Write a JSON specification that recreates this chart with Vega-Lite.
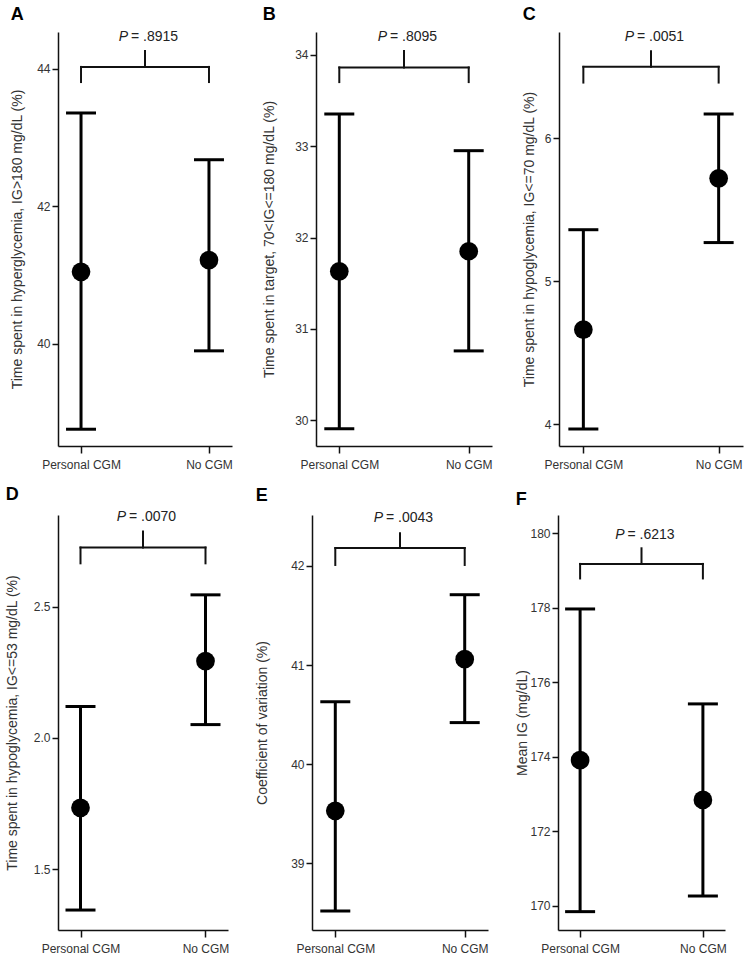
{
  "$schema": "https://vega.github.io/schema/vega-lite/v6.json",
  "padding": 5,
  "background": "white",
  "spacing": 15,
  "config": {
    "view": {"stroke": null},
    "font": "Liberation Sans",
    "axis": {"domainColor": "#111", "domainWidth": 1.5, "tickColor": "#111", "tickWidth": 1.5, "tickSize": 6, "labelColor": "#333", "labelFontSize": 12, "titleColor": "#333", "titleFontSize": 14, "titleFontWeight": "normal", "grid": false, "labelPadding": 2, "labelFlush": false},
    "axisY": {"minExtent": 22, "maxExtent": 22},
    "tick": {"opacity": 1},
    "title": {"fontSize": 18, "fontWeight": "bold", "anchor": "start", "frame": "bounds", "color": "#000", "offset": 6}
  },
  "datasets": {
    "groups": [
      {"panel": "A", "group": "Personal CGM", "xpos": 1, "mean": 41.05, "lower": 38.76, "upper": 43.36},
      {"panel": "A", "group": "No CGM", "xpos": 2, "mean": 41.22, "lower": 39.90, "upper": 42.68},
      {"panel": "B", "group": "Personal CGM", "xpos": 1, "mean": 31.63, "lower": 29.91, "upper": 33.35},
      {"panel": "B", "group": "No CGM", "xpos": 2, "mean": 31.85, "lower": 30.76, "upper": 32.95},
      {"panel": "C", "group": "Personal CGM", "xpos": 1, "mean": 4.66, "lower": 3.965, "upper": 5.36},
      {"panel": "C", "group": "No CGM", "xpos": 2, "mean": 5.72, "lower": 5.27, "upper": 6.17},
      {"panel": "D", "group": "Personal CGM", "xpos": 1, "mean": 1.734, "lower": 1.345, "upper": 2.12},
      {"panel": "D", "group": "No CGM", "xpos": 2, "mean": 2.293, "lower": 2.051, "upper": 2.545},
      {"panel": "E", "group": "Personal CGM", "xpos": 1, "mean": 39.53, "lower": 38.52, "upper": 40.63},
      {"panel": "E", "group": "No CGM", "xpos": 2, "mean": 41.06, "lower": 40.42, "upper": 41.71},
      {"panel": "F", "group": "Personal CGM", "xpos": 1, "mean": 173.91, "lower": 169.84, "upper": 177.97},
      {"panel": "F", "group": "No CGM", "xpos": 2, "mean": 172.84, "lower": 170.26, "upper": 175.42}
    ],
    "brackets": [
      {"panel": "A", "x1": 1, "x2": 2, "y1": 44.03, "y2": 44.03},
      {"panel": "A", "x1": 1, "x2": 1, "y1": 43.81, "y2": 44.03},
      {"panel": "A", "x1": 2, "x2": 2, "y1": 43.81, "y2": 44.03},
      {"panel": "A", "x1": 1.5, "x2": 1.5, "y1": 44.03, "y2": 44.26},
      {"panel": "B", "x1": 1, "x2": 2, "y1": 33.86, "y2": 33.86},
      {"panel": "B", "x1": 1, "x2": 1, "y1": 33.70, "y2": 33.86},
      {"panel": "B", "x1": 2, "x2": 2, "y1": 33.70, "y2": 33.86},
      {"panel": "B", "x1": 1.5, "x2": 1.5, "y1": 33.86, "y2": 34.04},
      {"panel": "C", "x1": 1, "x2": 2, "y1": 6.50, "y2": 6.50},
      {"panel": "C", "x1": 1, "x2": 1, "y1": 6.39, "y2": 6.50},
      {"panel": "C", "x1": 2, "x2": 2, "y1": 6.39, "y2": 6.50},
      {"panel": "C", "x1": 1.5, "x2": 1.5, "y1": 6.50, "y2": 6.61},
      {"panel": "D", "x1": 1, "x2": 2, "y1": 2.725, "y2": 2.725},
      {"panel": "D", "x1": 1, "x2": 1, "y1": 2.665, "y2": 2.725},
      {"panel": "D", "x1": 2, "x2": 2, "y1": 2.665, "y2": 2.725},
      {"panel": "D", "x1": 1.5, "x2": 1.5, "y1": 2.725, "y2": 2.786},
      {"panel": "E", "x1": 1, "x2": 2, "y1": 42.18, "y2": 42.18},
      {"panel": "E", "x1": 1, "x2": 1, "y1": 42.01, "y2": 42.18},
      {"panel": "E", "x1": 2, "x2": 2, "y1": 42.01, "y2": 42.18},
      {"panel": "E", "x1": 1.5, "x2": 1.5, "y1": 42.18, "y2": 42.33},
      {"panel": "F", "x1": 1, "x2": 2, "y1": 179.18, "y2": 179.18},
      {"panel": "F", "x1": 1, "x2": 1, "y1": 178.79, "y2": 179.18},
      {"panel": "F", "x1": 2, "x2": 2, "y1": 178.79, "y2": 179.18},
      {"panel": "F", "x1": 1.5, "x2": 1.5, "y1": 179.18, "y2": 179.60}
    ],
    "ptext": [
      {"panel": "A", "xpos": 1.5, "y": 44.47, "p": "P", "val": "= .8915"},
      {"panel": "B", "xpos": 1.5, "y": 34.19, "p": "P", "val": "= .8095"},
      {"panel": "C", "xpos": 1.5, "y": 6.71, "p": "P", "val": "= .0051"},
      {"panel": "D", "xpos": 1.5, "y": 2.843, "p": "P", "val": "= .0070"},
      {"panel": "E", "xpos": 1.5, "y": 42.48, "p": "P", "val": "= .0043"},
      {"panel": "F", "xpos": 1.5, "y": 179.96, "p": "P", "val": "= .6213"}
    ]
  },
  "vconcat": [
    {
      "spacing": 29,
      "hconcat": [
        {
          "title": {"text": "A"},
          "width": 174, "height": 414,
          "layer": [
            {"data": {"name": "groups"}, "transform": [{"filter": "datum.panel == 'A'"}],
             "mark": {"type": "rule", "strokeWidth": 3, "color": "#000"},
             "encoding": {
               "x": {"field": "xpos", "type": "quantitative", "scale": {"domain": [0.82, 2.18], "nice": false}, "axis": {"values": [1, 2], "labelExpr": "datum.value == 1 ? 'Personal CGM' : 'No CGM'", "title": null, "tickSize": 7, "labelPadding": 6}},
               "y": {"field": "lower", "type": "quantitative", "scale": {"domain": [38.516, 44.538], "nice": false, "zero": false}, "axis": {"values": [40, 42, 44], "format": "d", "title": "Time spent in hyperglycemia, IG>180 mg/dL (%)", "titlePadding": 11.2}},
               "y2": {"field": "upper"}}},
            {"data": {"name": "groups"}, "transform": [{"filter": "datum.panel == 'A'"}],
             "mark": {"type": "tick", "orient": "horizontal", "size": 30, "thickness": 3, "color": "#000", "opacity": 1},
             "encoding": {
               "x": {"field": "xpos", "type": "quantitative", "scale": {"domain": [0.82, 2.18], "nice": false}},
               "y": {"field": "upper", "type": "quantitative", "scale": {"domain": [38.516, 44.538], "nice": false, "zero": false}}}},
            {"data": {"name": "groups"}, "transform": [{"filter": "datum.panel == 'A'"}],
             "mark": {"type": "tick", "orient": "horizontal", "size": 30, "thickness": 3, "color": "#000", "opacity": 1},
             "encoding": {
               "x": {"field": "xpos", "type": "quantitative", "scale": {"domain": [0.82, 2.18], "nice": false}},
               "y": {"field": "lower", "type": "quantitative", "scale": {"domain": [38.516, 44.538], "nice": false, "zero": false}}}},
            {"data": {"name": "groups"}, "transform": [{"filter": "datum.panel == 'A'"}],
             "mark": {"type": "circle", "size": 350, "opacity": 1, "color": "#000"},
             "encoding": {
               "x": {"field": "xpos", "type": "quantitative", "scale": {"domain": [0.82, 2.18], "nice": false}},
               "y": {"field": "mean", "type": "quantitative", "scale": {"domain": [38.516, 44.538], "nice": false, "zero": false}}}},
            {"data": {"name": "brackets"}, "transform": [{"filter": "datum.panel == 'A'"}],
             "mark": {"type": "rule", "strokeWidth": 2, "color": "#111", "strokeCap": "square"},
             "encoding": {
               "x": {"field": "x1", "type": "quantitative", "scale": {"domain": [0.82, 2.18], "nice": false}},
               "x2": {"field": "x2"},
               "y": {"field": "y1", "type": "quantitative", "scale": {"domain": [38.516, 44.538], "nice": false, "zero": false}},
               "y2": {"field": "y2"}}},
            {"data": {"name": "ptext"}, "transform": [{"filter": "datum.panel == 'A'"}],
             "mark": {"type": "text", "fontSize": 14, "fontStyle": "italic", "align": "right", "baseline": "middle", "dx": -17, "color": "#222"},
             "encoding": {
               "x": {"field": "xpos", "type": "quantitative", "scale": {"domain": [0.82, 2.18], "nice": false}},
               "y": {"field": "y", "type": "quantitative", "scale": {"domain": [38.516, 44.538], "nice": false, "zero": false}},
               "text": {"field": "p"}}},
            {"data": {"name": "ptext"}, "transform": [{"filter": "datum.panel == 'A'"}],
             "mark": {"type": "text", "fontSize": 14, "align": "left", "baseline": "middle", "dx": -14, "color": "#222"},
             "encoding": {
               "x": {"field": "xpos", "type": "quantitative", "scale": {"domain": [0.82, 2.18], "nice": false}},
               "y": {"field": "y", "type": "quantitative", "scale": {"domain": [38.516, 44.538], "nice": false, "zero": false}},
               "text": {"field": "val"}}}
          ]
        },
        {
          "title": {"text": "B"},
          "width": 176, "height": 414,
          "layer": [
            {"data": {"name": "groups"}, "transform": [{"filter": "datum.panel == 'B'"}],
             "mark": {"type": "rule", "strokeWidth": 3, "color": "#000"},
             "encoding": {
               "x": {"field": "xpos", "type": "quantitative", "scale": {"domain": [0.82, 2.18], "nice": false}, "axis": {"values": [1, 2], "labelExpr": "datum.value == 1 ? 'Personal CGM' : 'No CGM'", "title": null, "tickSize": 7, "labelPadding": 6}},
               "y": {"field": "lower", "type": "quantitative", "scale": {"domain": [29.72, 34.248], "nice": false, "zero": false}, "axis": {"values": [30, 31, 32, 33, 34], "format": "d", "title": "Time spent in target, 70<IG<=180 mg/dL (%)", "titlePadding": 17.2}},
               "y2": {"field": "upper"}}},
            {"data": {"name": "groups"}, "transform": [{"filter": "datum.panel == 'B'"}],
             "mark": {"type": "tick", "orient": "horizontal", "size": 30, "thickness": 3, "color": "#000", "opacity": 1},
             "encoding": {
               "x": {"field": "xpos", "type": "quantitative", "scale": {"domain": [0.82, 2.18], "nice": false}},
               "y": {"field": "upper", "type": "quantitative", "scale": {"domain": [29.72, 34.248], "nice": false, "zero": false}}}},
            {"data": {"name": "groups"}, "transform": [{"filter": "datum.panel == 'B'"}],
             "mark": {"type": "tick", "orient": "horizontal", "size": 30, "thickness": 3, "color": "#000", "opacity": 1},
             "encoding": {
               "x": {"field": "xpos", "type": "quantitative", "scale": {"domain": [0.82, 2.18], "nice": false}},
               "y": {"field": "lower", "type": "quantitative", "scale": {"domain": [29.72, 34.248], "nice": false, "zero": false}}}},
            {"data": {"name": "groups"}, "transform": [{"filter": "datum.panel == 'B'"}],
             "mark": {"type": "circle", "size": 350, "opacity": 1, "color": "#000"},
             "encoding": {
               "x": {"field": "xpos", "type": "quantitative", "scale": {"domain": [0.82, 2.18], "nice": false}},
               "y": {"field": "mean", "type": "quantitative", "scale": {"domain": [29.72, 34.248], "nice": false, "zero": false}}}},
            {"data": {"name": "brackets"}, "transform": [{"filter": "datum.panel == 'B'"}],
             "mark": {"type": "rule", "strokeWidth": 2, "color": "#111", "strokeCap": "square"},
             "encoding": {
               "x": {"field": "x1", "type": "quantitative", "scale": {"domain": [0.82, 2.18], "nice": false}},
               "x2": {"field": "x2"},
               "y": {"field": "y1", "type": "quantitative", "scale": {"domain": [29.72, 34.248], "nice": false, "zero": false}},
               "y2": {"field": "y2"}}},
            {"data": {"name": "ptext"}, "transform": [{"filter": "datum.panel == 'B'"}],
             "mark": {"type": "text", "fontSize": 14, "fontStyle": "italic", "align": "right", "baseline": "middle", "dx": -17, "color": "#222"},
             "encoding": {
               "x": {"field": "xpos", "type": "quantitative", "scale": {"domain": [0.82, 2.18], "nice": false}},
               "y": {"field": "y", "type": "quantitative", "scale": {"domain": [29.72, 34.248], "nice": false, "zero": false}},
               "text": {"field": "p"}}},
            {"data": {"name": "ptext"}, "transform": [{"filter": "datum.panel == 'B'"}],
             "mark": {"type": "text", "fontSize": 14, "align": "left", "baseline": "middle", "dx": -14, "color": "#222"},
             "encoding": {
               "x": {"field": "xpos", "type": "quantitative", "scale": {"domain": [0.82, 2.18], "nice": false}},
               "y": {"field": "y", "type": "quantitative", "scale": {"domain": [29.72, 34.248], "nice": false, "zero": false}},
               "text": {"field": "val"}}}
          ]
        },
        {
          "title": {"text": "C"},
          "width": 184, "height": 414,
          "layer": [
            {"data": {"name": "groups"}, "transform": [{"filter": "datum.panel == 'C'"}],
             "mark": {"type": "rule", "strokeWidth": 3, "color": "#000"},
             "encoding": {
               "x": {"field": "xpos", "type": "quantitative", "scale": {"domain": [0.82, 2.18], "nice": false}, "axis": {"values": [1, 2], "labelExpr": "datum.value == 1 ? 'Personal CGM' : 'No CGM'", "title": null, "tickSize": 7, "labelPadding": 6}},
               "y": {"field": "lower", "type": "quantitative", "scale": {"domain": [3.846, 6.744], "nice": false, "zero": false}, "axis": {"values": [4, 5, 6], "format": "d", "title": "Time spent in hypoglycemia, IG<=70 mg/dL (%)", "titlePadding": 0.2}},
               "y2": {"field": "upper"}}},
            {"data": {"name": "groups"}, "transform": [{"filter": "datum.panel == 'C'"}],
             "mark": {"type": "tick", "orient": "horizontal", "size": 30, "thickness": 3, "color": "#000", "opacity": 1},
             "encoding": {
               "x": {"field": "xpos", "type": "quantitative", "scale": {"domain": [0.82, 2.18], "nice": false}},
               "y": {"field": "upper", "type": "quantitative", "scale": {"domain": [3.846, 6.744], "nice": false, "zero": false}}}},
            {"data": {"name": "groups"}, "transform": [{"filter": "datum.panel == 'C'"}],
             "mark": {"type": "tick", "orient": "horizontal", "size": 30, "thickness": 3, "color": "#000", "opacity": 1},
             "encoding": {
               "x": {"field": "xpos", "type": "quantitative", "scale": {"domain": [0.82, 2.18], "nice": false}},
               "y": {"field": "lower", "type": "quantitative", "scale": {"domain": [3.846, 6.744], "nice": false, "zero": false}}}},
            {"data": {"name": "groups"}, "transform": [{"filter": "datum.panel == 'C'"}],
             "mark": {"type": "circle", "size": 350, "opacity": 1, "color": "#000"},
             "encoding": {
               "x": {"field": "xpos", "type": "quantitative", "scale": {"domain": [0.82, 2.18], "nice": false}},
               "y": {"field": "mean", "type": "quantitative", "scale": {"domain": [3.846, 6.744], "nice": false, "zero": false}}}},
            {"data": {"name": "brackets"}, "transform": [{"filter": "datum.panel == 'C'"}],
             "mark": {"type": "rule", "strokeWidth": 2, "color": "#111", "strokeCap": "square"},
             "encoding": {
               "x": {"field": "x1", "type": "quantitative", "scale": {"domain": [0.82, 2.18], "nice": false}},
               "x2": {"field": "x2"},
               "y": {"field": "y1", "type": "quantitative", "scale": {"domain": [3.846, 6.744], "nice": false, "zero": false}},
               "y2": {"field": "y2"}}},
            {"data": {"name": "ptext"}, "transform": [{"filter": "datum.panel == 'C'"}],
             "mark": {"type": "text", "fontSize": 14, "fontStyle": "italic", "align": "right", "baseline": "middle", "dx": -17, "color": "#222"},
             "encoding": {
               "x": {"field": "xpos", "type": "quantitative", "scale": {"domain": [0.82, 2.18], "nice": false}},
               "y": {"field": "y", "type": "quantitative", "scale": {"domain": [3.846, 6.744], "nice": false, "zero": false}},
               "text": {"field": "p"}}},
            {"data": {"name": "ptext"}, "transform": [{"filter": "datum.panel == 'C'"}],
             "mark": {"type": "text", "fontSize": 14, "align": "left", "baseline": "middle", "dx": -14, "color": "#222"},
             "encoding": {
               "x": {"field": "xpos", "type": "quantitative", "scale": {"domain": [0.82, 2.18], "nice": false}},
               "y": {"field": "y", "type": "quantitative", "scale": {"domain": [3.846, 6.744], "nice": false, "zero": false}},
               "text": {"field": "val"}}}
          ]
        }
      ]
    },
    {
      "spacing": 26,
      "hconcat": [
        {
          "title": {"text": "D"},
          "width": 170, "height": 415,
          "layer": [
            {"data": {"name": "groups"}, "transform": [{"filter": "datum.panel == 'D'"}],
             "mark": {"type": "rule", "strokeWidth": 3, "color": "#000"},
             "encoding": {
               "x": {"field": "xpos", "type": "quantitative", "scale": {"domain": [0.82, 2.18], "nice": false}, "axis": {"values": [1, 2], "labelExpr": "datum.value == 1 ? 'Personal CGM' : 'No CGM'", "title": null, "tickSize": 7, "labelPadding": 6}},
               "y": {"field": "lower", "type": "quantitative", "scale": {"domain": [1.269, 2.849], "nice": false, "zero": false}, "axis": {"values": [1.5, 2.0, 2.5], "format": ".1f", "title": "Time spent in hypoglycemia, IG<=53 mg/dL (%)", "titlePadding": 16.2}},
               "y2": {"field": "upper"}}},
            {"data": {"name": "groups"}, "transform": [{"filter": "datum.panel == 'D'"}],
             "mark": {"type": "tick", "orient": "horizontal", "size": 30, "thickness": 3, "color": "#000", "opacity": 1},
             "encoding": {
               "x": {"field": "xpos", "type": "quantitative", "scale": {"domain": [0.82, 2.18], "nice": false}},
               "y": {"field": "upper", "type": "quantitative", "scale": {"domain": [1.269, 2.849], "nice": false, "zero": false}}}},
            {"data": {"name": "groups"}, "transform": [{"filter": "datum.panel == 'D'"}],
             "mark": {"type": "tick", "orient": "horizontal", "size": 30, "thickness": 3, "color": "#000", "opacity": 1},
             "encoding": {
               "x": {"field": "xpos", "type": "quantitative", "scale": {"domain": [0.82, 2.18], "nice": false}},
               "y": {"field": "lower", "type": "quantitative", "scale": {"domain": [1.269, 2.849], "nice": false, "zero": false}}}},
            {"data": {"name": "groups"}, "transform": [{"filter": "datum.panel == 'D'"}],
             "mark": {"type": "circle", "size": 350, "opacity": 1, "color": "#000"},
             "encoding": {
               "x": {"field": "xpos", "type": "quantitative", "scale": {"domain": [0.82, 2.18], "nice": false}},
               "y": {"field": "mean", "type": "quantitative", "scale": {"domain": [1.269, 2.849], "nice": false, "zero": false}}}},
            {"data": {"name": "brackets"}, "transform": [{"filter": "datum.panel == 'D'"}],
             "mark": {"type": "rule", "strokeWidth": 2, "color": "#111", "strokeCap": "square"},
             "encoding": {
               "x": {"field": "x1", "type": "quantitative", "scale": {"domain": [0.82, 2.18], "nice": false}},
               "x2": {"field": "x2"},
               "y": {"field": "y1", "type": "quantitative", "scale": {"domain": [1.269, 2.849], "nice": false, "zero": false}},
               "y2": {"field": "y2"}}},
            {"data": {"name": "ptext"}, "transform": [{"filter": "datum.panel == 'D'"}],
             "mark": {"type": "text", "fontSize": 14, "fontStyle": "italic", "align": "right", "baseline": "middle", "dx": -17, "color": "#222"},
             "encoding": {
               "x": {"field": "xpos", "type": "quantitative", "scale": {"domain": [0.82, 2.18], "nice": false}},
               "y": {"field": "y", "type": "quantitative", "scale": {"domain": [1.269, 2.849], "nice": false, "zero": false}},
               "text": {"field": "p"}}},
            {"data": {"name": "ptext"}, "transform": [{"filter": "datum.panel == 'D'"}],
             "mark": {"type": "text", "fontSize": 14, "align": "left", "baseline": "middle", "dx": -14, "color": "#222"},
             "encoding": {
               "x": {"field": "xpos", "type": "quantitative", "scale": {"domain": [0.82, 2.18], "nice": false}},
               "y": {"field": "y", "type": "quantitative", "scale": {"domain": [1.269, 2.849], "nice": false, "zero": false}},
               "text": {"field": "val"}}}
          ]
        },
        {
          "title": {"text": "E"},
          "width": 176, "height": 415,
          "layer": [
            {"data": {"name": "groups"}, "transform": [{"filter": "datum.panel == 'E'"}],
             "mark": {"type": "rule", "strokeWidth": 3, "color": "#000"},
             "encoding": {
               "x": {"field": "xpos", "type": "quantitative", "scale": {"domain": [0.82, 2.18], "nice": false}, "axis": {"values": [1, 2], "labelExpr": "datum.value == 1 ? 'Personal CGM' : 'No CGM'", "title": null, "tickSize": 7, "labelPadding": 6}},
               "y": {"field": "lower", "type": "quantitative", "scale": {"domain": [38.328, 42.514], "nice": false, "zero": false}, "axis": {"values": [39, 40, 41, 42], "format": "d", "title": "Coefficient of variation (%)", "titlePadding": 20.2}},
               "y2": {"field": "upper"}}},
            {"data": {"name": "groups"}, "transform": [{"filter": "datum.panel == 'E'"}],
             "mark": {"type": "tick", "orient": "horizontal", "size": 30, "thickness": 3, "color": "#000", "opacity": 1},
             "encoding": {
               "x": {"field": "xpos", "type": "quantitative", "scale": {"domain": [0.82, 2.18], "nice": false}},
               "y": {"field": "upper", "type": "quantitative", "scale": {"domain": [38.328, 42.514], "nice": false, "zero": false}}}},
            {"data": {"name": "groups"}, "transform": [{"filter": "datum.panel == 'E'"}],
             "mark": {"type": "tick", "orient": "horizontal", "size": 30, "thickness": 3, "color": "#000", "opacity": 1},
             "encoding": {
               "x": {"field": "xpos", "type": "quantitative", "scale": {"domain": [0.82, 2.18], "nice": false}},
               "y": {"field": "lower", "type": "quantitative", "scale": {"domain": [38.328, 42.514], "nice": false, "zero": false}}}},
            {"data": {"name": "groups"}, "transform": [{"filter": "datum.panel == 'E'"}],
             "mark": {"type": "circle", "size": 350, "opacity": 1, "color": "#000"},
             "encoding": {
               "x": {"field": "xpos", "type": "quantitative", "scale": {"domain": [0.82, 2.18], "nice": false}},
               "y": {"field": "mean", "type": "quantitative", "scale": {"domain": [38.328, 42.514], "nice": false, "zero": false}}}},
            {"data": {"name": "brackets"}, "transform": [{"filter": "datum.panel == 'E'"}],
             "mark": {"type": "rule", "strokeWidth": 2, "color": "#111", "strokeCap": "square"},
             "encoding": {
               "x": {"field": "x1", "type": "quantitative", "scale": {"domain": [0.82, 2.18], "nice": false}},
               "x2": {"field": "x2"},
               "y": {"field": "y1", "type": "quantitative", "scale": {"domain": [38.328, 42.514], "nice": false, "zero": false}},
               "y2": {"field": "y2"}}},
            {"data": {"name": "ptext"}, "transform": [{"filter": "datum.panel == 'E'"}],
             "mark": {"type": "text", "fontSize": 14, "fontStyle": "italic", "align": "right", "baseline": "middle", "dx": -17, "color": "#222"},
             "encoding": {
               "x": {"field": "xpos", "type": "quantitative", "scale": {"domain": [0.82, 2.18], "nice": false}},
               "y": {"field": "y", "type": "quantitative", "scale": {"domain": [38.328, 42.514], "nice": false, "zero": false}},
               "text": {"field": "p"}}},
            {"data": {"name": "ptext"}, "transform": [{"filter": "datum.panel == 'E'"}],
             "mark": {"type": "text", "fontSize": 14, "align": "left", "baseline": "middle", "dx": -14, "color": "#222"},
             "encoding": {
               "x": {"field": "xpos", "type": "quantitative", "scale": {"domain": [0.82, 2.18], "nice": false}},
               "y": {"field": "y", "type": "quantitative", "scale": {"domain": [38.328, 42.514], "nice": false, "zero": false}},
               "text": {"field": "val"}}}
          ]
        },
        {
          "title": {"text": "F"},
          "width": 167, "height": 415,
          "layer": [
            {"data": {"name": "groups"}, "transform": [{"filter": "datum.panel == 'F'"}],
             "mark": {"type": "rule", "strokeWidth": 3, "color": "#000"},
             "encoding": {
               "x": {"field": "xpos", "type": "quantitative", "scale": {"domain": [0.82, 2.18], "nice": false}, "axis": {"values": [1, 2], "labelExpr": "datum.value == 1 ? 'Personal CGM' : 'No CGM'", "title": null, "tickSize": 7, "labelPadding": 6}},
               "y": {"field": "lower", "type": "quantitative", "scale": {"domain": [169.347, 180.494], "nice": false, "zero": false}, "axis": {"values": [170, 172, 174, 176, 178, 180], "format": "d", "title": "Mean IG (mg/dL)", "titlePadding": 6.2}},
               "y2": {"field": "upper"}}},
            {"data": {"name": "groups"}, "transform": [{"filter": "datum.panel == 'F'"}],
             "mark": {"type": "tick", "orient": "horizontal", "size": 30, "thickness": 3, "color": "#000", "opacity": 1},
             "encoding": {
               "x": {"field": "xpos", "type": "quantitative", "scale": {"domain": [0.82, 2.18], "nice": false}},
               "y": {"field": "upper", "type": "quantitative", "scale": {"domain": [169.347, 180.494], "nice": false, "zero": false}}}},
            {"data": {"name": "groups"}, "transform": [{"filter": "datum.panel == 'F'"}],
             "mark": {"type": "tick", "orient": "horizontal", "size": 30, "thickness": 3, "color": "#000", "opacity": 1},
             "encoding": {
               "x": {"field": "xpos", "type": "quantitative", "scale": {"domain": [0.82, 2.18], "nice": false}},
               "y": {"field": "lower", "type": "quantitative", "scale": {"domain": [169.347, 180.494], "nice": false, "zero": false}}}},
            {"data": {"name": "groups"}, "transform": [{"filter": "datum.panel == 'F'"}],
             "mark": {"type": "circle", "size": 350, "opacity": 1, "color": "#000"},
             "encoding": {
               "x": {"field": "xpos", "type": "quantitative", "scale": {"domain": [0.82, 2.18], "nice": false}},
               "y": {"field": "mean", "type": "quantitative", "scale": {"domain": [169.347, 180.494], "nice": false, "zero": false}}}},
            {"data": {"name": "brackets"}, "transform": [{"filter": "datum.panel == 'F'"}],
             "mark": {"type": "rule", "strokeWidth": 2, "color": "#111", "strokeCap": "square"},
             "encoding": {
               "x": {"field": "x1", "type": "quantitative", "scale": {"domain": [0.82, 2.18], "nice": false}},
               "x2": {"field": "x2"},
               "y": {"field": "y1", "type": "quantitative", "scale": {"domain": [169.347, 180.494], "nice": false, "zero": false}},
               "y2": {"field": "y2"}}},
            {"data": {"name": "ptext"}, "transform": [{"filter": "datum.panel == 'F'"}],
             "mark": {"type": "text", "fontSize": 14, "fontStyle": "italic", "align": "right", "baseline": "middle", "dx": -17, "color": "#222"},
             "encoding": {
               "x": {"field": "xpos", "type": "quantitative", "scale": {"domain": [0.82, 2.18], "nice": false}},
               "y": {"field": "y", "type": "quantitative", "scale": {"domain": [169.347, 180.494], "nice": false, "zero": false}},
               "text": {"field": "p"}}},
            {"data": {"name": "ptext"}, "transform": [{"filter": "datum.panel == 'F'"}],
             "mark": {"type": "text", "fontSize": 14, "align": "left", "baseline": "middle", "dx": -14, "color": "#222"},
             "encoding": {
               "x": {"field": "xpos", "type": "quantitative", "scale": {"domain": [0.82, 2.18], "nice": false}},
               "y": {"field": "y", "type": "quantitative", "scale": {"domain": [169.347, 180.494], "nice": false, "zero": false}},
               "text": {"field": "val"}}}
          ]
        }
      ]
    }
  ]
}
